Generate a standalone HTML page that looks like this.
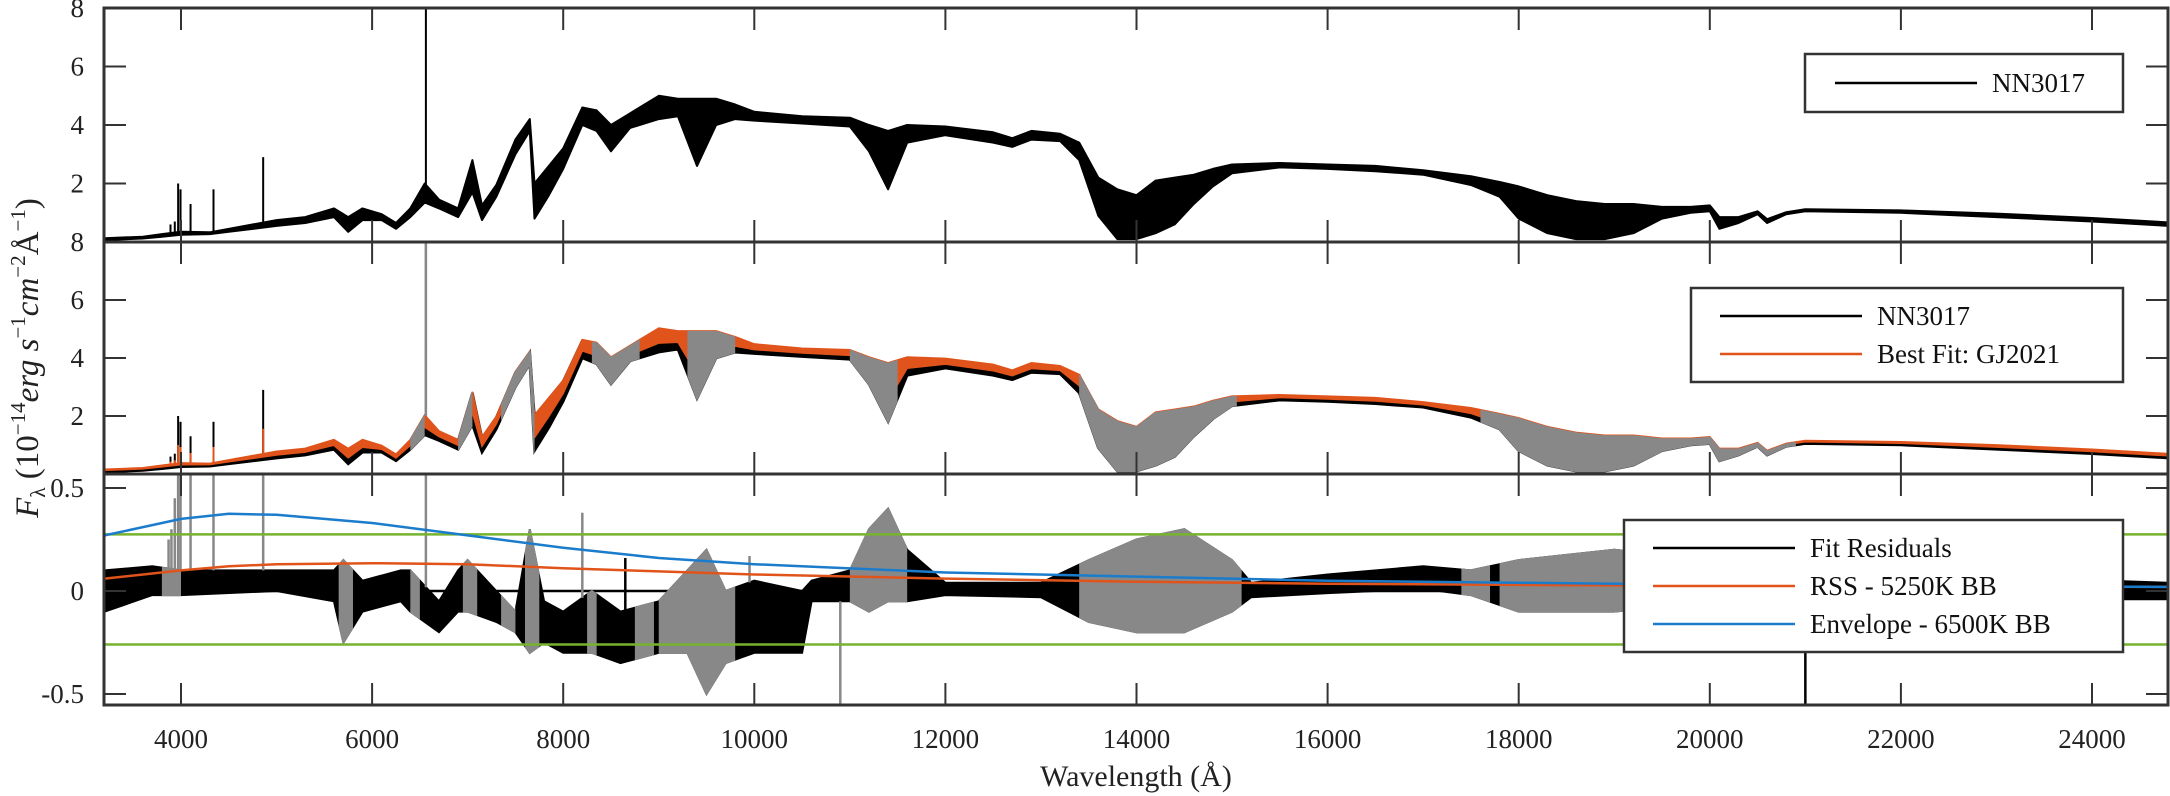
<!DOCTYPE html>
<html><head><meta charset="utf-8"><style>
html,body{margin:0;padding:0;background:#fff;}
svg{display:block;font-family:"Liberation Serif",serif;}
</style></head><body>
<svg id="chart" width="2170" height="796" viewBox="0 0 2170 796" xmlns="http://www.w3.org/2000/svg">
<defs>
<clipPath id="c1"><rect x="104" y="8" width="2064" height="234"/></clipPath>
<clipPath id="c2"><rect x="104" y="242" width="2064" height="232"/></clipPath>
<clipPath id="c3"><rect x="104" y="474" width="2064" height="231"/></clipPath>
</defs>
<g id="layer"></g>
</svg>
<script>
// ---- data ----
const waves = [3200,3600,3800,4000,4300,4500,5000,5300,5600,5750,5900,6100,6250,6400,6550,6700,6900,7050,7150,7300,7500,7650,7700,7850,8000,8200,8350,8500,8700,9000,9200,9400,9600,9800,10000,10500,11000,11200,11400,11600,12000,12500,12700,12900,13200,13400,13600,13800,14000,14200,14400,14600,14800,15000,15500,16000,16500,17000,17500,17800,18000,18300,18600,18900,19200,19500,19800,20000,20100,20300,20500,20600,20800,21000,22000,23000,24000,24800];
const fluxLo = [0.07,0.12,0.18,0.25,0.27,0.35,0.55,0.65,0.85,0.35,0.75,0.75,0.45,0.85,1.35,1.15,0.85,1.7,0.75,1.55,3.0,3.8,0.8,1.6,2.5,4.0,3.8,3.1,3.9,4.2,4.3,2.6,4.0,4.2,4.15,4.05,3.95,3.1,1.8,3.4,3.65,3.4,3.25,3.5,3.45,2.8,0.9,0.1,0.1,0.3,0.6,1.3,1.9,2.35,2.55,2.5,2.42,2.3,1.95,1.55,0.8,0.3,0.1,0.1,0.3,0.8,1.0,1.05,0.45,0.65,0.95,0.65,0.95,1.05,1.0,0.85,0.7,0.55];
const fluxHi = [0.13,0.18,0.27,0.35,0.33,0.45,0.75,0.85,1.15,0.85,1.15,0.95,0.65,1.15,2.0,1.45,1.15,2.8,1.25,1.95,3.5,4.2,2.0,2.6,3.2,4.6,4.5,4.0,4.4,5.0,4.9,4.9,4.9,4.7,4.45,4.3,4.25,4.0,3.8,4.0,3.95,3.75,3.55,3.8,3.7,3.4,2.2,1.8,1.6,2.1,2.2,2.3,2.5,2.65,2.7,2.65,2.6,2.45,2.25,2.05,1.9,1.6,1.4,1.3,1.3,1.2,1.2,1.25,0.85,0.85,1.05,0.78,1.02,1.12,1.08,0.97,0.82,0.67];
const spikeW = [3890,3935,3970,3995,4100,4340,4860,6563];
const spikeV = [0.6,0.7,2.0,1.8,1.3,1.8,2.9,8.0];
const fitGray = [[6400,6550],[6900,7050],[7350,7700],[8300,8800],[9300,9800],[11000,11500],[13400,15050],[17600,20900]];
const resW = [3200,3700,4000,5000,5600,5700,5900,6300,6400,6700,6900,7000,7300,7500,7650,7800,8000,8300,8600,9000,9300,9500,9700,10000,10500,10600,11000,11200,11400,11600,12000,13000,13500,14000,14500,15000,15200,16000,17000,17500,18000,19000,20000,21000,24800];
const resLo = [-0.1,-0.02,-0.02,0.0,-0.05,-0.25,-0.1,-0.05,-0.1,-0.2,-0.1,-0.1,-0.15,-0.2,-0.3,-0.25,-0.3,-0.3,-0.35,-0.3,-0.3,-0.5,-0.35,-0.3,-0.3,-0.05,-0.05,-0.1,-0.05,-0.05,-0.02,-0.03,-0.15,-0.2,-0.2,-0.1,-0.03,-0.01,0.01,-0.02,-0.1,-0.1,-0.05,-0.04,-0.04];
const resHi = [0.1,0.12,0.1,0.1,0.1,0.15,0.05,0.1,0.1,-0.05,0.1,0.15,0.0,-0.1,0.3,-0.05,-0.1,0.0,-0.1,-0.05,0.1,0.2,0.0,0.05,0.0,0.05,0.1,0.3,0.4,0.2,0.04,0.04,0.15,0.25,0.3,0.15,0.04,0.08,0.12,0.1,0.15,0.2,0.15,0.1,0.04];
const resGray = [[3800,4000],[5650,5800],[6400,6500],[6950,7100],[7350,7500],[7600,7750],[8250,8350],[8750,8950],[9000,9800],[11000,11600],[13400,15100],[17400,17700],[17800,19500],[20000,20600]];
const resSpikeW = [3870,3900,3935,3970,3995,4100,4340,4860,6563,7650,8200,8650,9950,10900,21000];
const resSpikeV = [0.25,0.3,0.45,0.6,0.6,0.6,0.6,0.6,0.6,0.3,0.38,0.16,0.17,-0.6,-0.6];
const bbW = [3200,4000,4500,5000,6000,7000,8000,9000,10000,12000,14000,16000,20000,24800];
const rssV = [0.06,0.1,0.12,0.13,0.135,0.13,0.11,0.095,0.08,0.06,0.045,0.035,0.025,0.02];
const envV = [0.27,0.35,0.375,0.37,0.33,0.27,0.21,0.16,0.13,0.09,0.07,0.05,0.03,0.02];
const rmsLimit = [0.275,-0.26];
const xTicks = [4000,6000,8000,10000,12000,14000,16000,18000,20000,22000,24000];
const y1Ticks = [8,6,4,2];
const y3Ticks = [0.5,0,-0.5];
const y3Labels = ["0.5","0","-0.5"];

// ---- axes ----
const L=104,R=2168;
const X = w => 181 + (w-4000)*0.09555;
const Y1 = v => 242 - v*29.25;
const Y2 = v => 474 - v*29;
const Y3 = v => 591 - v*206;
const NS="http://www.w3.org/2000/svg";
const layer=document.getElementById('layer');
function el(tag,attrs,parent){const e=document.createElementNS(NS,tag);for(const k in attrs)e.setAttribute(k,attrs[k]);(parent||layer).appendChild(e);return e;}
function interp(ws,vs,w){if(w<=ws[0])return vs[0];for(let i=1;i<ws.length;i++){if(w<=ws[i]){const t=(w-ws[i-1])/(ws[i]-ws[i-1]);return vs[i-1]+t*(vs[i]-vs[i-1]);}}return vs[vs.length-1];}
function bandPts(ws,lo,hi,Yf){let p=[];for(let i=0;i<ws.length;i++)p.push(X(ws[i]).toFixed(1)+','+Yf(hi[i]).toFixed(1));for(let i=ws.length-1;i>=0;i--)p.push(X(ws[i]).toFixed(1)+','+Yf(lo[i]).toFixed(1));return p.join(' ');}
function linePts(ws,vs,Yf){return ws.map((w,i)=>X(w).toFixed(1)+','+Yf(vs[i]).toFixed(1)).join(' ');}
const fitLo = fluxLo.map((v,i)=>v+0.35*(fluxHi[i]-v));

// Panel 1
const g1=el('g',{'clip-path':'url(#c1)'});


const s1=el('polygon',{points:bandPts(waves,fluxLo,fluxHi,Y1),fill:'#000',stroke:'#000','stroke-width':2,'stroke-linejoin':'round'},g1);


spikeW.forEach((w,i)=>{const b=interp(waves,fluxHi,w);const ln=el('line',{x1:X(w),x2:X(w),y1:Y1(b),y2:Y1(spikeV[i]),stroke:'#000','stroke-width':2},g1);

});

// Panel 2
const g2=el('g',{'clip-path':'url(#c2)'});


const s2=el('polygon',{points:bandPts(waves,fluxLo,fluxHi,Y2),fill:'#000',stroke:'#000','stroke-width':2.5},g2);


spikeW.forEach((w,i)=>{const b=interp(waves,fluxHi,w);const ln=el('line',{x1:X(w),x2:X(w),y1:Y2(b),y2:Y2(spikeV[i]),stroke:'#000','stroke-width':2},g2);

});
const f2=el('polygon',{points:bandPts(waves,fitLo,fluxHi,Y2),fill:'#e0541c',stroke:'#e0541c','stroke-width':1.5,transform:'translate(0,-1)'},g2);


spikeW.forEach((w,i)=>{const b=interp(waves,fluxHi,w);const ln=el('line',{x1:X(w),x2:X(w),y1:Y2(b),y2:Y2(b+(spikeV[i]-b)*0.4),stroke:'#e0541c','stroke-width':2},g2);

});
fitGray.forEach((r,k)=>{const cid='g2c'+k;const cp=el('clipPath',{id:cid},g2);el('rect',{x:X(r[0]),y:242,width:X(r[1])-X(r[0]),height:232},cp);
const gp=el('polygon',{points:bandPts(waves,fluxLo,fluxHi,Y2),fill:'#888',stroke:'#888','stroke-width':2,'clip-path':'url(#'+cid+')'},g2);

});
const ha=el('line',{x1:X(6563),x2:X(6563),y1:242,y2:Y2(2),stroke:'#888','stroke-width':2.5},g2);



// Panel 3
const g3=el('g',{'clip-path':'url(#c3)'});


const zl=el('line',{x1:L,x2:R,y1:Y3(0),y2:Y3(0),stroke:'#000','stroke-width':2.5},g3);


const r3=el('polygon',{points:bandPts(resW,resLo,resHi,Y3),fill:'#000',stroke:'#000','stroke-width':2},g3);


resGray.forEach((r,k)=>{const cid='g3c'+k;const cp=el('clipPath',{id:cid},g3);el('rect',{x:X(r[0]),y:474,width:X(r[1])-X(r[0]),height:231},cp);
const gp=el('polygon',{points:bandPts(resW,resLo,resHi,Y3),fill:'#888',stroke:'#888','stroke-width':2,'clip-path':'url(#'+cid+')'},g3);

});
resSpikeW.forEach((w,i)=>{const b=interp(resW,resSpikeV[i]>0?resHi:resLo,w);const col=(w===21000||w===8650)?'#000':'#888';
const ln=el('line',{x1:X(w),x2:X(w),y1:Y3(b),y2:Y3(resSpikeV[i]),stroke:col,'stroke-width':2.5},g3);

});
rmsLimit.forEach(v=>{const ln=el('line',{x1:L,x2:R,y1:Y3(v),y2:Y3(v),stroke:'#77b32e','stroke-width':2.5},g3);

});
const rss=el('polyline',{points:linePts(bbW,rssV,Y3),fill:'none',stroke:'#e0541c','stroke-width':2.5},g3);


const env=el('polyline',{points:linePts(bbW,envV,Y3),fill:'none',stroke:'#1c7ccc','stroke-width':2.5},g3);



// Frames and ticks
const frames=[[8,242],[242,474],[474,705]];
frames.forEach(f=>{
  xTicks.forEach(w=>{const x=X(w);
    const a=el('line',{x1:x,x2:x,y1:f[1],y2:f[1]-22,stroke:'#333','stroke-width':2});
    
    
    const b=el('line',{x1:x,x2:x,y1:f[0],y2:f[0]+22,stroke:'#333','stroke-width':2});
    
    });
  const r=el('rect',{x:L,y:f[0],width:R-L,height:f[1]-f[0],fill:'none',stroke:'#333','stroke-width':3});
  
  
});
function yTick(y,label){
  const a=el('line',{x1:L,x2:L+22,y1:y,y2:y,stroke:'#333','stroke-width':2});
  
  
  const b=el('line',{x1:R,x2:R-22,y1:y,y2:y,stroke:'#333','stroke-width':2});
  
  
  const t=el('text',{x:84,y:y+9,'text-anchor':'end','font-size':27,fill:'#222'});t.textContent=label;
  
  
}
y1Ticks.forEach(v=>yTick(Y1(v),String(v)));
y1Ticks.forEach(v=>yTick(Y2(v),String(v)));
y3Ticks.forEach((v,i)=>yTick(Y3(v),y3Labels[i]));
xTicks.forEach(w=>{const t=el('text',{x:X(w),y:748,'text-anchor':'middle','font-size':27,fill:'#222'});t.textContent=String(w);

});

// Legends
function legend(name,x,y,w,h,items){
  const g=el('g',{});
  
  
  el('rect',{x:x,y:y,width:w,height:h,fill:'#fff',stroke:'#333','stroke-width':2.5},g);
  items.forEach(it=>{
    const l=el('line',{x1:it[3],x2:it[3]+142,y1:it[1],y2:it[1],stroke:it[2],'stroke-width':2.5},g);
    
    
    const t=el('text',{x:it[3]+157,y:it[1]+9,'font-size':27,fill:'#111'},g);t.textContent=it[0];
    
    
  });
}
legend('legend-observed',1805,54,318,58,[['NN3017',83,'#000',1835]]);
legend('legend-fit',1691,288,432,94,[['NN3017',316,'#000',1720],['Best Fit: GJ2021',354,'#e0541c',1720]]);
legend('legend-residuals',1624,520,499,132,[['Fit Residuals',548,'#000',1653],['RSS - 5250K BB',586,'#e0541c',1653],['Envelope - 6500K BB',624,'#1c7ccc',1653]]);

// Axis titles
const xt=el('text',{x:1136,y:786,'text-anchor':'middle','font-size':30,fill:'#222'});xt.textContent='Wavelength (Å)';


const yt=el('text',{x:0,y:0,'text-anchor':'middle','font-size':33,fill:'#222',transform:'translate(38,358) rotate(-90)'});
yt.innerHTML='<tspan font-style="italic">F</tspan><tspan font-size="21" dy="7">λ</tspan><tspan dy="-7"> (10</tspan><tspan font-size="21" dy="-13">−14</tspan><tspan font-style="italic" dy="13">erg s</tspan><tspan font-size="21" dy="-13">−1</tspan><tspan font-style="italic" dy="13">cm</tspan><tspan font-size="21" dy="-13">−2</tspan><tspan dy="13">Å</tspan><tspan font-size="21" dy="-13">−1</tspan><tspan dy="13">)</tspan>';


</script>
</body></html>
